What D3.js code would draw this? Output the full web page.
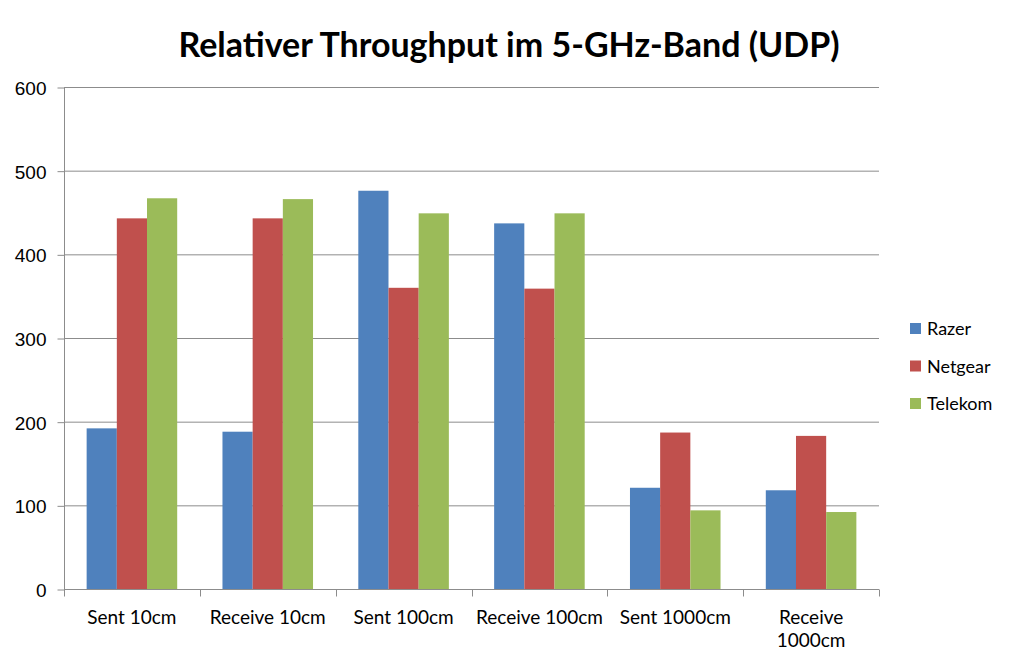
<!DOCTYPE html>
<html>
<head>
<meta charset="utf-8">
<script src="https://cdn.jsdelivr.net/npm/d3@7"></script>
<style>
  body { margin: 0; background: #fff; }
  svg { font-family: Lato, "Open Sans", sans-serif; }
</style>
</head>
<body>
<svg width="1020" height="668"></svg>
<script>
const categories = ['Sent 10cm', 'Receive 10cm', 'Sent 100cm', 'Receive 100cm', 'Sent 1000cm', 'Receive 1000cm'];
const categoryLabels = [['Sent 10cm'], ['Receive 10cm'], ['Sent 100cm'], ['Receive 100cm'], ['Sent 1000cm'], ['Receive', '1000cm']];
const seriesNames = ['Razer', 'Netgear', 'Telekom'];
const razer = [192, 188, 476, 437, 121, 118];
const netgear = [443, 443, 360, 359, 187, 183];
const telekom = [467, 466, 449, 449, 94, 92];
const yTicks = [0, 100, 200, 300, 400, 500, 600];
const colors = ['#4F81BD', '#C0504D', '#9BBB59'];

function drawBarchart() {
    const svg = d3.select('svg');
    const plot = { left: 64, right: 879, top: 87, bottom: 589 };
    const seriesValues = [razer, netgear, telekom];

    const xScale = d3.scaleBand()
        .domain(categories)
        .range([plot.left, plot.right])
        .padding(0);
    const xSub = d3.scaleBand()
        .domain(seriesNames)
        .range([0, xScale.bandwidth()])
        .paddingInner(0)
        .paddingOuter(0.75);
    const yScale = d3.scaleLinear()
        .domain([0, 600])
        .range([plot.bottom, plot.top]);
    const colorScale = d3.scaleOrdinal()
        .domain(seriesNames)
        .range(colors);

    // Gridlines
    svg.append('g')
        .selectAll('line')
        .data(yTicks.filter(d => d > 0))
        .join('line')
        .attr('x1', plot.left)
        .attr('x2', plot.right)
        .attr('y1', d => yScale(d) + 0.5)
        .attr('y2', d => yScale(d) + 0.5)
        .attr('stroke', '#8c8c8c')
        .attr('stroke-width', 1);

    // Bars
    const rows = [];
    categories.forEach((c, i) => {
        seriesNames.forEach((s, j) => {
            rows.push({ category: c, series: s, value: seriesValues[j][i] });
        });
    });
    svg.append('g')
        .selectAll('rect')
        .data(rows)
        .join('rect')
        .attr('x', d => xScale(d.category) + xSub(d.series))
        .attr('y', d => yScale(d.value))
        .attr('width', xSub.bandwidth())
        .attr('height', d => yScale(0) - yScale(d.value))
        .attr('fill', d => colorScale(d.series));

    // Y axis
    const yAxis = d3.axisLeft(yScale)
        .tickValues(yTicks)
        .tickSize(7)
        .tickPadding(11);
    const yg = svg.append('g')
        .attr('transform', `translate(${plot.left + 0.5}, 0.5)`)
        .call(yAxis);
    yg.select('.domain').attr('stroke', '#8c8c8c').attr('d', `M0,${plot.top - 0.5}V${plot.bottom}`);
    yg.selectAll('.tick line').attr('stroke', '#8c8c8c');
    yg.selectAll('.tick text')
        .attr('dy', '0.36em')
        .style('font-size', '19px')
        .attr('fill', '#000');

    // X axis
    const xg = svg.append('g')
        .attr('transform', `translate(0, ${plot.bottom + 0.5})`);
    xg.append('line')
        .attr('x1', plot.left)
        .attr('x2', plot.right)
        .attr('stroke', '#8c8c8c');
    xg.selectAll('.xtick')
        .data(categories.map(c => xScale(c)).concat([plot.right]))
        .join('line')
        .attr('x1', d => Math.round(d) + 0.5)
        .attr('x2', d => Math.round(d) + 0.5)
        .attr('y1', 0)
        .attr('y2', 7)
        .attr('stroke', '#8c8c8c');
    const labels = xg.selectAll('.xlabel')
        .data(categories)
        .join('text')
        .attr('x', d => xScale(d) + xScale.bandwidth() / 2)
        .attr('y', 34)
        .attr('text-anchor', 'middle')
        .style('font-size', '19px')
        .attr('fill', '#000');
    labels.each(function (d, i) {
        categoryLabels[i].forEach((line, k) => {
            d3.select(this).append('tspan')
                .attr('x', xScale(d) + xScale.bandwidth() / 2)
                .attr('dy', k === 0 ? 0 : 23)
                .text(line);
        });
    });

    // Title
    svg.append('text')
        .text('Relativer Throughput im 5-GHz-Band (UDP)')
        .attr('x', 509)
        .attr('y', 57)
        .attr('text-anchor', 'middle')
        .style('font-size', '34px')
        .style('font-weight', 'bold')
        .attr('fill', '#000');

    // Legend
    const legend = svg.append('g')
        .attr('transform', 'translate(910, 323)');
    seriesNames.forEach((s, i) => {
        const row = legend.append('g')
            .attr('transform', `translate(0, ${i * 37.5})`);
        row.append('rect')
            .attr('width', 11)
            .attr('height', 11)
            .attr('fill', colorScale(s));
        row.append('text')
            .text(s)
            .attr('x', 17)
            .attr('y', 12)
            .style('font-size', '18px')
            .attr('fill', '#000');
    });
}

window.addEventListener('load', drawBarchart);
</script>
</body>
</html>
